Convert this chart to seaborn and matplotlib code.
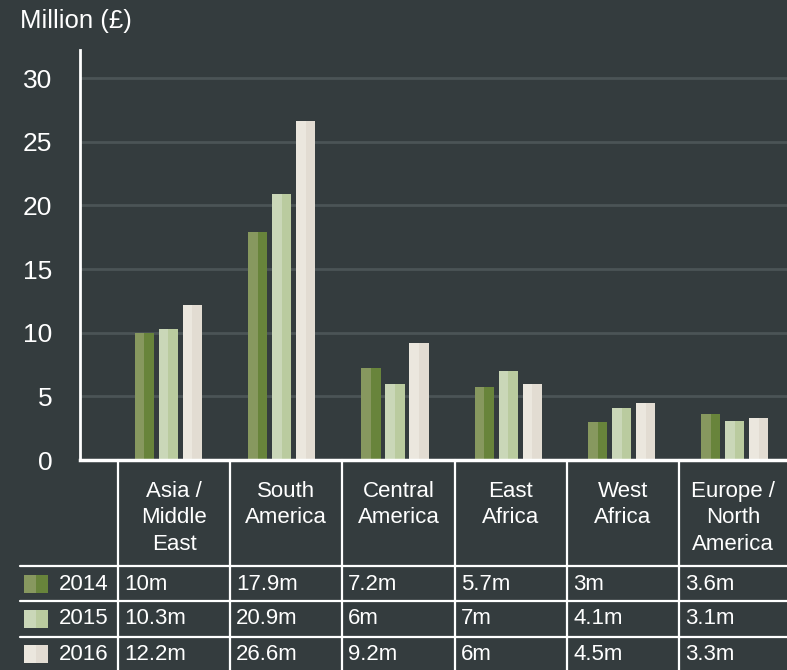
import matplotlib
matplotlib.use("Agg")
import matplotlib.pyplot as plt
from matplotlib.patches import Rectangle
from matplotlib.lines import Line2D
import seaborn as sns
import pandas as pd

# Funding by region, million GBP
regions = ["Asia /\nMiddle\nEast", "South\nAmerica", "Central\nAmerica",
           "East\nAfrica", "West\nAfrica", "Europe /\nNorth\nAmerica"]
years = ["2014", "2015", "2016"]
values_2014 = [10, 17.9, 7.2, 5.7, 3, 3.6]
values_2015 = [10.3, 20.9, 6, 7, 4.1, 3.1]
values_2016 = [12.2, 26.6, 9.2, 6, 4.5, 3.3]
y_ticks = [0, 5, 10, 15, 20, 25, 30]

BG = "#343c3e"
GRID = "#4b5456"
WHITE = "#ffffff"
# darker right half / lighter left half of each bar
dark = {"2014": "#68843b", "2015": "#bacb9f", "2016": "#e2dcd2"}
light = {"2014": "#87985f", "2015": "#cad7b8", "2016": "#ebe7de"}

series = {"2014": values_2014, "2015": values_2015, "2016": values_2016}
df = pd.DataFrame([
    {"region": r, "year": y, "value": series[y][i]}
    for y in years for i, r in enumerate(regions)
])

sns.set_theme(style="white")
plt.rcParams["font.family"] = ["Liberation Sans", "DejaVu Sans"]

W, H = 787, 670
fig = plt.figure(figsize=(W / 100, H / 100), dpi=100, facecolor=BG)

def fx(px):
    return px / W

def fy(py):
    return 1 - py / H

ax = fig.add_axes([fx(80), fy(460), fx(787) - fx(80), fy(50) - fy(460)])
ax.set_facecolor(BG)

sns.barplot(data=df, x="region", y="value", hue="year", hue_order=years,
            palette=dark, width=0.635, gap=0.2, ax=ax, legend=False,
            saturation=1, linewidth=0, zorder=3)

# lighter left half on each bar
for patch, (y, i) in zip(ax.patches, [(y, i) for y in years for i in range(len(regions))]):
    x0 = patch.get_x()
    w = patch.get_width()
    h = patch.get_height()
    ax.add_patch(Rectangle((x0, 0), w / 2, h, facecolor=light[y],
                           linewidth=0, zorder=4))

ax.set_xlim(-0.78, 5.46)
ax.set_ylim(0, 32.2)
ax.set_yticks(y_ticks)
ax.set_yticklabels([str(t) for t in y_ticks], fontsize=19, color=WHITE)
ax.tick_params(axis="y", length=0, pad=20)
ax.set_xticks([])
ax.set_xlabel("")
ax.set_ylabel("")
for t in y_ticks[1:]:
    ax.axhline(t, color=GRID, linewidth=2, zorder=1)
for s in ["top", "right"]:
    ax.spines[s].set_visible(False)
ax.spines["left"].set_color(WHITE)
ax.spines["left"].set_linewidth(2)
ax.spines["bottom"].set_color(WHITE)
ax.spines["bottom"].set_linewidth(2.5)
ax.spines["left"].set_zorder(5)
ax.spines["bottom"].set_zorder(5)

fig.text(fx(20), fy(21), "Million (£)", fontsize=18.5, color=WHITE,
         ha="left", va="center")

# data table beneath the chart
col_edges = [118, 230, 342, 455, 567, 679, 787]
row_lines = [566, 601, 637]
row_centers = [584, 619, 654]

for xe in col_edges[:-1]:
    fig.add_artist(Line2D([fx(xe), fx(xe)], [fy(460), fy(670)],
                          color=WHITE, linewidth=1.6))
for yl in row_lines:
    fig.add_artist(Line2D([fx(20), fx(787)], [fy(yl), fy(yl)],
                          color=WHITE, linewidth=1.6))

for i, r in enumerate(regions):
    cx = (col_edges[i] + col_edges[i + 1]) / 2
    fig.text(fx(cx), fy(481), r, fontsize=16, color=WHITE, ha="center",
             va="top", linespacing=1.33)

for j, y in enumerate(years):
    cy = row_centers[j]
    fig.add_artist(Rectangle((fx(24), fy(cy + 9)), fx(12), fy(cy - 9) - fy(cy + 9),
                             facecolor=light[y], linewidth=0, transform=fig.transFigure))
    fig.add_artist(Rectangle((fx(36), fy(cy + 9)), fx(12), fy(cy - 9) - fy(cy + 9),
                             facecolor=dark[y], linewidth=0, transform=fig.transFigure))
    fig.text(fx(59), fy(cy), y, fontsize=16, color=WHITE, ha="left", va="center")
    for i in range(len(regions)):
        v = series[y][i]
        label = f"{v:g}m"
        fig.text(fx(col_edges[i] + 6), fy(cy), label, fontsize=16, color=WHITE,
                 ha="left", va="center")

fig.savefig("out.png", dpi=100, facecolor=BG)
